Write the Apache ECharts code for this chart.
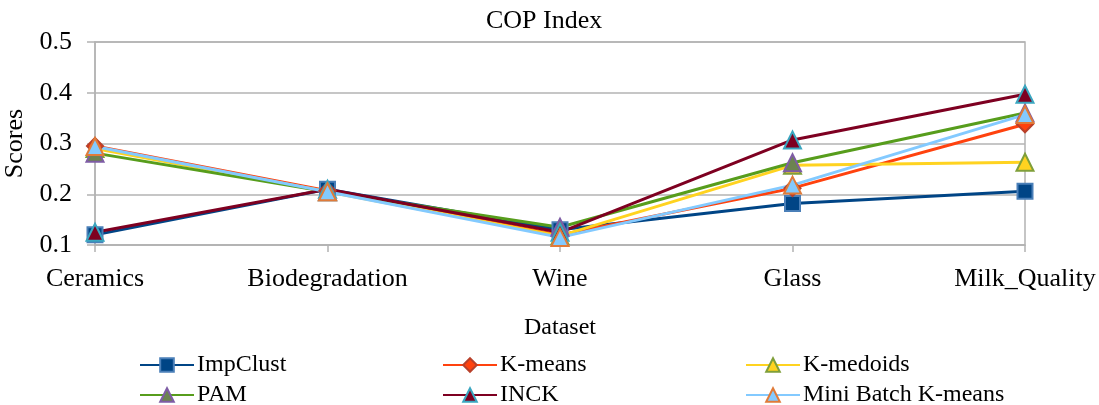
<!DOCTYPE html>
<html>
<head>
<meta charset="utf-8">
<script src="https://cdn.jsdelivr.net/npm/echarts@6/dist/echarts.min.js"></script>
<style>
  html, body { margin: 0; padding: 0; background: #fff; }
  #chart { width: 1099px; height: 405px; }
</style>
</head>
<body>
<div id="chart"></div>
<script>
// Datasets on the x axis
const categories = ['Ceramics', 'Biodegradation', 'Wine', 'Glass', 'Milk_Quality'];

// COP index scores per clustering method
const impClust  = [0.120, 0.210, 0.130, 0.182, 0.206];
const kMeans    = [0.295, 0.207, 0.120, 0.212, 0.338];
const kMedoids  = [0.290, 0.205, 0.118, 0.257, 0.263];
const pam       = [0.281, 0.205, 0.135, 0.262, 0.360];
const inck      = [0.125, 0.210, 0.125, 0.307, 0.397];
const miniBatch = [0.294, 0.205, 0.115, 0.218, 0.357];

// y axis ticks
const yTicks = [0.1, 0.2, 0.3, 0.4, 0.5];

const FONT = "'Liberation Serif', 'Times New Roman', serif";
const GRID_COLOR = '#b3b3b3';

const methods = [
  { name: 'ImpClust', data: impClust, line: '#004586', symbol: 'rect', fill: '#004586', border: '#4a7fb8', size: 15 },
  { name: 'K-means', data: kMeans, line: '#ff420e', symbol: 'diamond', fill: '#ff420e', border: '#b8402a', size: 16 },
  { name: 'K-medoids', data: kMedoids, line: '#ffd320', symbol: 'triangle', fill: '#ffd320', border: '#7f9f3a', size: 17 },
  { name: 'PAM', data: pam, line: '#579d1c', symbol: 'triangle', fill: '#6c8350', border: '#7e5ca5', size: 17 },
  { name: 'INCK', data: inck, line: '#7e0021', symbol: 'triangle', fill: '#7e0021', border: '#3aa6c0', size: 17 },
  { name: 'Mini Batch K-means', data: miniBatch, line: '#83caff', symbol: 'triangle', fill: '#83caff', border: '#e07b39', size: 17 }
];

// legend slots: two rows of three columns
const legendPos = [
  { left: 139, top: 353 }, { left: 442, top: 353 }, { left: 745, top: 353 },
  { left: 139, top: 383 }, { left: 442, top: 383 }, { left: 745, top: 383 }
];

const chart = echarts.init(document.getElementById('chart'), null, { renderer: 'canvas' });

const option = {
  backgroundColor: '#ffffff',
  animation: false,
  title: {
    text: 'COP Index',
    left: 481,
    top: 3,
    textStyle: { fontFamily: FONT, fontSize: 26, fontWeight: 'normal', color: '#000' }
  },
  legend: methods.map((m, i) => ({
    data: [m.name],
    left: legendPos[i].left,
    top: legendPos[i].top,
    itemWidth: 54,
    itemHeight: 17,
    itemGap: 5,
    padding: 0,
    textStyle: { fontFamily: FONT, fontSize: 24, color: '#000', padding: [0, 0, 0, -2] }
  })),
  grid: {
    left: 95, right: 74, top: 42, bottom: 160,
    containLabel: false,
    outerBoundsMode: 'none',
    show: true,
    borderColor: GRID_COLOR,
    borderWidth: 1.5,
    backgroundColor: 'transparent'
  },
  xAxis: {
    type: 'category',
    data: categories,
    boundaryGap: false,
    name: 'Dataset',
    nameLocation: 'middle',
    nameGap: 71,
    nameTextStyle: { fontFamily: FONT, fontSize: 24, color: '#000' },
    axisLine: { show: true, lineStyle: { color: GRID_COLOR, width: 1.5 } },
    axisTick: { show: true, length: 7, lineStyle: { color: GRID_COLOR, width: 1.5 } },
    axisLabel: { interval: 0, margin: 21, fontFamily: FONT, fontSize: 26, color: '#000' },
    splitLine: { show: false }
  },
  yAxis: {
    type: 'value',
    min: yTicks[0],
    max: yTicks[yTicks.length - 1],
    interval: 0.1,
    name: 'Scores',
    nameLocation: 'middle',
    nameGap: 64,
    nameRotate: 90,
    nameTextStyle: { fontFamily: FONT, fontSize: 26, color: '#000' },
    axisLine: { show: true, lineStyle: { color: GRID_COLOR, width: 1.5 } },
    axisTick: { show: true, length: 8, lineStyle: { color: GRID_COLOR, width: 1.5 } },
    axisLabel: {
      margin: 23,
      fontFamily: FONT,
      fontSize: 26,
      color: '#000',
      formatter: v => String(Math.round(v * 10) / 10)
    },
    splitLine: { show: true, lineStyle: { color: GRID_COLOR, width: 1.5 } }
  },
  series: methods.map(m => ({
    name: m.name,
    type: 'line',
    data: m.data,
    symbol: m.symbol,
    symbolSize: m.size,
    showAllSymbol: true,
    lineStyle: { color: m.line, width: 3 },
    itemStyle: { color: m.fill, borderColor: m.border, borderWidth: 2 },
    emphasis: { disabled: true }
  }))
};

chart.setOption(option);
</script>
</body>
</html>
